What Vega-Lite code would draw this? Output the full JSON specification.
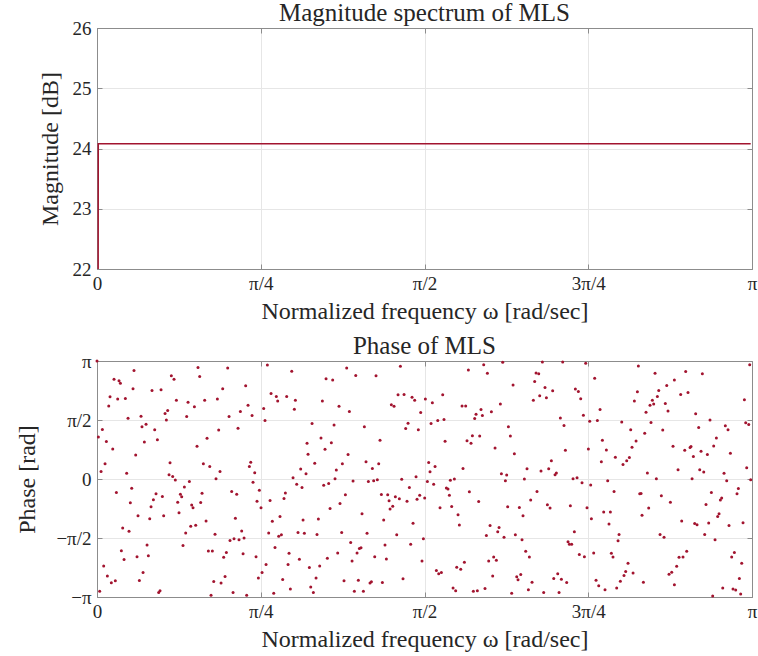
{
"$schema": "https://vega.github.io/schema/vega-lite/v6.json",
"background": "white",
"padding": {"left": 15, "top": 0, "right": 5, "bottom": 2},
"spacing": 9,
"config": {
 "font": "Liberation Serif",
 "view": {"stroke": "#8c8c8c", "strokeWidth": 1},
 "axis": {"labelFont": "Liberation Serif", "titleFont": "Liberation Serif", "labelFontSize": 19, "titleFontSize": 24, "titleFontWeight": "normal", "labelColor": "#262626", "titleColor": "#262626", "domainColor": "#8c8c8c", "tickColor": "#8c8c8c", "tickSize": -5, "gridColor": "#e6e6e6", "labelFlush": false, "labelOverlap": false},
 "axisX": {"labelPadding": 10, "titlePadding": 6},
 "axisY": {"labelPadding": 11, "titlePadding": 10},
 "title": {"font": "Liberation Serif", "fontSize": 25, "fontWeight": "normal", "color": "#262626", "offset": -7}
},
"datasets": {
 "mag": [
  {"omega_pi": 0, "magnitude_db": 0},
  {"omega_pi": 0.00195, "magnitude_db": 24.08},
  {"omega_pi": 0.998, "magnitude_db": 24.08}
 ],
 "phase": [
{"omega_pi":0,"phase_pi":1.0},{"omega_pi":0.0565,"phase_pi":0.919},{"omega_pi":0.026,"phase_pi":0.846},{"omega_pi":0.0336,"phase_pi":0.832},{"omega_pi":0.0357,"phase_pi":0.812},{"omega_pi":0.1135,"phase_pi":0.874},{"omega_pi":0.1176,"phase_pi":0.846},{"omega_pi":0.055,"phase_pi":0.765},{"omega_pi":0.084,"phase_pi":0.751},{"omega_pi":0.0978,"phase_pi":0.756},{"omega_pi":0.0199,"phase_pi":0.697},{"omega_pi":0.0316,"phase_pi":0.678},{"omega_pi":0.0433,"phase_pi":0.683},{"omega_pi":0.1212,"phase_pi":0.667},{"omega_pi":0.0179,"phase_pi":0.619},{"omega_pi":0.1079,"phase_pi":0.58},{"omega_pi":0.1039,"phase_pi":0.555},{"omega_pi":0.0672,"phase_pi":0.532},{"omega_pi":0.0474,"phase_pi":0.515},{"omega_pi":0.1059,"phase_pi":0.499},{"omega_pi":0.0749,"phase_pi":0.465},{"omega_pi":0.0687,"phase_pi":0.443},{"omega_pi":0.0082,"phase_pi":0.42},{"omega_pi":0.0881,"phase_pi":0.417},{"omega_pi":0.0021,"phase_pi":0.356},{"omega_pi":0.0922,"phase_pi":0.333},{"omega_pi":0.0143,"phase_pi":0.317},{"omega_pi":0.0723,"phase_pi":0.314},{"omega_pi":0.024,"phase_pi":0.255},{"omega_pi":0.0591,"phase_pi":0.204},{"omega_pi":0.0123,"phase_pi":0.129},{"omega_pi":0.1115,"phase_pi":0.137},{"omega_pi":0.0062,"phase_pi":0.064},{"omega_pi":0.0453,"phase_pi":0.048},{"omega_pi":0.11,"phase_pi":0.036},{"omega_pi":0.1156,"phase_pi":0.022},{"omega_pi":0.1196,"phase_pi":-0.008},{"omega_pi":0.0296,"phase_pi":-0.115},{"omega_pi":0.053,"phase_pi":-0.078},{"omega_pi":0.0901,"phase_pi":-0.126},{"omega_pi":0.0998,"phase_pi":-0.148},{"omega_pi":0.0861,"phase_pi":-0.176},{"omega_pi":0.0509,"phase_pi":-0.202},{"omega_pi":0.0825,"phase_pi":-0.235},{"omega_pi":0.0626,"phase_pi":-0.311},{"omega_pi":0.1018,"phase_pi":-0.311},{"omega_pi":0.0805,"phase_pi":-0.336},{"omega_pi":0.0392,"phase_pi":-0.415},{"omega_pi":0.0489,"phase_pi":-0.443},{"omega_pi":0.0764,"phase_pi":-0.56},{"omega_pi":0.0372,"phase_pi":-0.608},{"omega_pi":0.0784,"phase_pi":-0.65},{"omega_pi":0.0611,"phase_pi":-0.658},{"omega_pi":0.0413,"phase_pi":-0.683},{"omega_pi":0.0102,"phase_pi":-0.737},{"omega_pi":0.0703,"phase_pi":-0.793},{"omega_pi":0.0158,"phase_pi":-0.821},{"omega_pi":0.028,"phase_pi":-0.863},{"omega_pi":0.0647,"phase_pi":-0.86},{"omega_pi":0.0219,"phase_pi":-0.88},{"omega_pi":0.0041,"phase_pi":-0.952},{"omega_pi":0.0962,"phase_pi":-0.947},{"omega_pi":0.0942,"phase_pi":-0.961},
{"omega_pi":0.1542,"phase_pi":0.944},{"omega_pi":0.1995,"phase_pi":0.941},{"omega_pi":0.1568,"phase_pi":0.868},{"omega_pi":0.1919,"phase_pi":0.765},{"omega_pi":0.227,"phase_pi":0.79},{"omega_pi":0.139,"phase_pi":0.65},{"omega_pi":0.1487,"phase_pi":0.613},{"omega_pi":0.1644,"phase_pi":0.667},{"omega_pi":0.1838,"phase_pi":0.678},{"omega_pi":0.2306,"phase_pi":0.625},{"omega_pi":0.2189,"phase_pi":0.571},{"omega_pi":0.2367,"phase_pi":0.538},{"omega_pi":0.1369,"phase_pi":0.529},{"omega_pi":0.2016,"phase_pi":0.529},{"omega_pi":0.2153,"phase_pi":0.431},{"omega_pi":0.1858,"phase_pi":0.415},{"omega_pi":0.168,"phase_pi":0.345},{"omega_pi":0.1527,"phase_pi":0.277},{"omega_pi":0.1624,"phase_pi":0.129},{"omega_pi":0.1721,"phase_pi":0.106},{"omega_pi":0.2347,"phase_pi":0.143},{"omega_pi":0.2326,"phase_pi":0.106},{"omega_pi":0.1878,"phase_pi":0.064},{"omega_pi":0.2408,"phase_pi":0.053},{"omega_pi":0.141,"phase_pi":-0.022},{"omega_pi":0.1817,"phase_pi":0.003},{"omega_pi":0.1334,"phase_pi":-0.067},{"omega_pi":0.1273,"phase_pi":-0.129},{"omega_pi":0.1293,"phase_pi":-0.151},{"omega_pi":0.1604,"phase_pi":-0.12},{"omega_pi":0.2056,"phase_pi":-0.106},{"omega_pi":0.2133,"phase_pi":-0.129},{"omega_pi":0.2479,"phase_pi":-0.095},{"omega_pi":0.1232,"phase_pi":-0.196},{"omega_pi":0.1446,"phase_pi":-0.221},{"omega_pi":0.1466,"phase_pi":-0.244},{"omega_pi":0.1583,"phase_pi":-0.199},{"omega_pi":0.2443,"phase_pi":-0.188},{"omega_pi":0.2382,"phase_pi":-0.028},{"omega_pi":0.1252,"phase_pi":-0.286},{"omega_pi":0.2113,"phase_pi":-0.333},{"omega_pi":0.1665,"phase_pi":-0.356},{"omega_pi":0.1431,"phase_pi":-0.401},{"omega_pi":0.1507,"phase_pi":-0.392},{"omega_pi":0.2209,"phase_pi":-0.44},{"omega_pi":0.1354,"phase_pi":-0.457},{"omega_pi":0.1802,"phase_pi":-0.468},{"omega_pi":0.2031,"phase_pi":-0.521},{"omega_pi":0.2092,"phase_pi":-0.507},{"omega_pi":0.2168,"phase_pi":-0.515},{"omega_pi":0.2245,"phase_pi":-0.499},{"omega_pi":0.1313,"phase_pi":-0.563},{"omega_pi":0.17,"phase_pi":-0.611},{"omega_pi":0.1761,"phase_pi":-0.611},{"omega_pi":0.1975,"phase_pi":-0.622},{"omega_pi":0.1934,"phase_pi":-0.664},{"omega_pi":0.223,"phase_pi":-0.633},{"omega_pi":0.2428,"phase_pi":-0.658},{"omega_pi":0.1955,"phase_pi":-0.826},{"omega_pi":0.2464,"phase_pi":-0.84},{"omega_pi":0.1782,"phase_pi":-0.868},{"omega_pi":0.1894,"phase_pi":-0.882},{"omega_pi":0.1741,"phase_pi":-0.986},{"omega_pi":0.2077,"phase_pi":-0.961},{"omega_pi":0.2285,"phase_pi":-0.986},
{"omega_pi":0.2601,"phase_pi":0.966},{"omega_pi":0.2973,"phase_pi":0.913},{"omega_pi":0.3497,"phase_pi":0.849},{"omega_pi":0.3598,"phase_pi":0.838},{"omega_pi":0.2657,"phase_pi":0.725},{"omega_pi":0.2738,"phase_pi":0.7},{"omega_pi":0.2759,"phase_pi":0.661},{"omega_pi":0.2896,"phase_pi":0.7},{"omega_pi":0.3029,"phase_pi":0.667},{"omega_pi":0.3441,"phase_pi":0.661},{"omega_pi":0.2545,"phase_pi":0.597},{"omega_pi":0.3013,"phase_pi":0.591},{"omega_pi":0.3695,"phase_pi":0.616},{"omega_pi":0.2565,"phase_pi":0.496},{"omega_pi":0.3283,"phase_pi":0.471},{"omega_pi":0.3619,"phase_pi":0.457},{"omega_pi":0.342,"phase_pi":0.347},{"omega_pi":0.3578,"phase_pi":0.308},{"omega_pi":0.3207,"phase_pi":0.303},{"omega_pi":0.3481,"phase_pi":0.252},{"omega_pi":0.3222,"phase_pi":0.21},{"omega_pi":0.3324,"phase_pi":0.134},{"omega_pi":0.3746,"phase_pi":0.129},{"omega_pi":0.311,"phase_pi":0.084},{"omega_pi":0.3654,"phase_pi":0.076},{"omega_pi":0.3191,"phase_pi":0.045},{"omega_pi":0.2993,"phase_pi":0.011},{"omega_pi":0.3634,"phase_pi":0.003},{"omega_pi":0.3049,"phase_pi":-0.045},{"omega_pi":0.313,"phase_pi":-0.073},{"omega_pi":0.3461,"phase_pi":-0.053},{"omega_pi":0.3537,"phase_pi":-0.039},{"omega_pi":0.2876,"phase_pi":-0.118},{"omega_pi":0.2642,"phase_pi":-0.182},{"omega_pi":0.2855,"phase_pi":-0.165},{"omega_pi":0.371,"phase_pi":-0.207},{"omega_pi":0.2504,"phase_pi":-0.244},{"omega_pi":0.3558,"phase_pi":-0.249},{"omega_pi":0.2794,"phase_pi":-0.317},{"omega_pi":0.2677,"phase_pi":-0.359},{"omega_pi":0.3146,"phase_pi":-0.347},{"omega_pi":0.338,"phase_pi":-0.339},{"omega_pi":0.2621,"phase_pi":-0.457},{"omega_pi":0.2774,"phase_pi":-0.485},{"omega_pi":0.2815,"phase_pi":-0.473},{"omega_pi":0.3069,"phase_pi":-0.454},{"omega_pi":0.3166,"phase_pi":-0.459},{"omega_pi":0.3359,"phase_pi":-0.471},{"omega_pi":0.3736,"phase_pi":-0.454},{"omega_pi":0.2718,"phase_pi":-0.58},{"omega_pi":0.2932,"phase_pi":-0.63},{"omega_pi":0.3675,"phase_pi":-0.627},{"omega_pi":0.309,"phase_pi":-0.681},{"omega_pi":0.3517,"phase_pi":-0.672},{"omega_pi":0.2581,"phase_pi":-0.725},{"omega_pi":0.2917,"phase_pi":-0.725},{"omega_pi":0.3242,"phase_pi":-0.751},{"omega_pi":0.34,"phase_pi":-0.737},{"omega_pi":0.252,"phase_pi":-0.793},{"omega_pi":0.2835,"phase_pi":-0.852},{"omega_pi":0.3344,"phase_pi":-0.84},{"omega_pi":0.2952,"phase_pi":-0.933},{"omega_pi":0.3263,"phase_pi":-0.916},{"omega_pi":0.2698,"phase_pi":-0.969},{"omega_pi":0.3303,"phase_pi":-0.961},
{"omega_pi":0.3812,"phase_pi":0.941},{"omega_pi":0.395,"phase_pi":0.877},{"omega_pi":0.426,"phase_pi":0.874},{"omega_pi":0.4632,"phase_pi":0.955},{"omega_pi":0.4596,"phase_pi":0.714},{"omega_pi":0.4688,"phase_pi":0.717},{"omega_pi":0.481,"phase_pi":0.692},{"omega_pi":0.485,"phase_pi":0.667},{"omega_pi":0.5013,"phase_pi":0.678},{"omega_pi":0.4494,"phase_pi":0.63},{"omega_pi":0.4535,"phase_pi":0.616},{"omega_pi":0.3853,"phase_pi":0.571},{"omega_pi":0.4942,"phase_pi":0.563},{"omega_pi":0.4749,"phase_pi":0.473},{"omega_pi":0.4713,"phase_pi":0.429},{"omega_pi":0.4906,"phase_pi":0.417},{"omega_pi":0.4082,"phase_pi":0.443},{"omega_pi":0.4321,"phase_pi":0.328},{"omega_pi":0.3833,"phase_pi":0.207},{"omega_pi":0.4107,"phase_pi":0.146},{"omega_pi":0.4301,"phase_pi":0.129},{"omega_pi":0.4204,"phase_pi":0.09},{"omega_pi":0.4871,"phase_pi":0.02},{"omega_pi":0.4652,"phase_pi":-0.003},{"omega_pi":0.3909,"phase_pi":-0.017},{"omega_pi":0.4143,"phase_pi":-0.022},{"omega_pi":0.4224,"phase_pi":-0.014},{"omega_pi":0.428,"phase_pi":-0.006},{"omega_pi":0.4769,"phase_pi":-0.073},{"omega_pi":0.3792,"phase_pi":-0.134},{"omega_pi":0.4342,"phase_pi":-0.132},{"omega_pi":0.4438,"phase_pi":-0.134},{"omega_pi":0.4555,"phase_pi":-0.151},{"omega_pi":0.4459,"phase_pi":-0.185},{"omega_pi":0.4616,"phase_pi":-0.168},{"omega_pi":0.4733,"phase_pi":-0.188},{"omega_pi":0.4886,"phase_pi":-0.171},{"omega_pi":0.4927,"phase_pi":-0.137},{"omega_pi":0.5003,"phase_pi":-0.16},{"omega_pi":0.4515,"phase_pi":-0.23},{"omega_pi":0.4474,"phase_pi":-0.255},{"omega_pi":0.4046,"phase_pi":-0.294},{"omega_pi":0.4377,"phase_pi":-0.347},{"omega_pi":0.4825,"phase_pi":-0.375},{"omega_pi":0.4123,"phase_pi":-0.459},{"omega_pi":0.4576,"phase_pi":-0.473},{"omega_pi":0.4983,"phase_pi":-0.507},{"omega_pi":0.3873,"phase_pi":-0.538},{"omega_pi":0.4006,"phase_pi":-0.588},{"omega_pi":0.4031,"phase_pi":-0.583},{"omega_pi":0.4397,"phase_pi":-0.56},{"omega_pi":0.4789,"phase_pi":-0.552},{"omega_pi":0.397,"phase_pi":-0.627},{"omega_pi":0.3894,"phase_pi":-0.695},{"omega_pi":0.424,"phase_pi":-0.658},{"omega_pi":0.4418,"phase_pi":-0.678},{"omega_pi":0.4962,"phase_pi":-0.695},{"omega_pi":0.3771,"phase_pi":-0.863},{"omega_pi":0.399,"phase_pi":-0.857},{"omega_pi":0.4168,"phase_pi":-0.882},{"omega_pi":0.4189,"phase_pi":-0.871},{"omega_pi":0.4357,"phase_pi":-0.877},{"omega_pi":0.4672,"phase_pi":-0.846},{"omega_pi":0.3929,"phase_pi":-0.952},{"omega_pi":0.4067,"phase_pi":-0.952},
{"omega_pi":0.567,"phase_pi":0.924},{"omega_pi":0.5904,"phase_pi":0.969},{"omega_pi":0.6194,"phase_pi":0.989},{"omega_pi":0.596,"phase_pi":0.896},{"omega_pi":0.5278,"phase_pi":0.714},{"omega_pi":0.512,"phase_pi":0.647},{"omega_pi":0.5573,"phase_pi":0.619},{"omega_pi":0.5629,"phase_pi":0.619},{"omega_pi":0.5863,"phase_pi":0.588},{"omega_pi":0.5787,"phase_pi":0.549},{"omega_pi":0.5884,"phase_pi":0.538},{"omega_pi":0.5766,"phase_pi":0.513},{"omega_pi":0.6021,"phase_pi":0.569},{"omega_pi":0.6158,"phase_pi":0.636},{"omega_pi":0.51,"phase_pi":0.471},{"omega_pi":0.5202,"phase_pi":0.496},{"omega_pi":0.5298,"phase_pi":0.504},{"omega_pi":0.6281,"phase_pi":0.443},{"omega_pi":0.5731,"phase_pi":0.367},{"omega_pi":0.5843,"phase_pi":0.364},{"omega_pi":0.5649,"phase_pi":0.325},{"omega_pi":0.571,"phase_pi":0.303},{"omega_pi":0.5314,"phase_pi":0.319},{"omega_pi":0.6077,"phase_pi":0.263},{"omega_pi":0.5064,"phase_pi":0.14},{"omega_pi":0.5161,"phase_pi":0.106},{"omega_pi":0.5084,"phase_pi":0.062},{"omega_pi":0.5588,"phase_pi":0.09},{"omega_pi":0.6174,"phase_pi":0.045},{"omega_pi":0.6255,"phase_pi":0.034},{"omega_pi":0.6235,"phase_pi":-0.014},{"omega_pi":0.5395,"phase_pi":-0.011},{"omega_pi":0.5456,"phase_pi":0.0},{"omega_pi":0.5044,"phase_pi":-0.022},{"omega_pi":0.514,"phase_pi":-0.045},{"omega_pi":0.5334,"phase_pi":-0.076},{"omega_pi":0.5359,"phase_pi":-0.084},{"omega_pi":0.5685,"phase_pi":-0.109},{"omega_pi":0.538,"phase_pi":-0.137},{"omega_pi":0.5827,"phase_pi":-0.19},{"omega_pi":0.5237,"phase_pi":-0.244},{"omega_pi":0.5415,"phase_pi":-0.232},{"omega_pi":0.627,"phase_pi":-0.235},{"omega_pi":0.5512,"phase_pi":-0.303},{"omega_pi":0.5532,"phase_pi":-0.389},{"omega_pi":0.6001,"phase_pi":-0.395},{"omega_pi":0.6138,"phase_pi":-0.412},{"omega_pi":0.6118,"phase_pi":-0.448},{"omega_pi":0.5945,"phase_pi":-0.479},{"omega_pi":0.6214,"phase_pi":-0.493},{"omega_pi":0.6056,"phase_pi":-0.661},{"omega_pi":0.598,"phase_pi":-0.695},{"omega_pi":0.6097,"phase_pi":-0.689},{"omega_pi":0.5609,"phase_pi":-0.706},{"omega_pi":0.5492,"phase_pi":-0.748},{"omega_pi":0.5553,"phase_pi":-0.765},{"omega_pi":0.5181,"phase_pi":-0.776},{"omega_pi":0.5217,"phase_pi":-0.804},{"omega_pi":0.5258,"phase_pi":-0.793},{"omega_pi":0.6041,"phase_pi":-0.821},{"omega_pi":0.5436,"phase_pi":-0.924},{"omega_pi":0.5476,"phase_pi":-0.947},{"omega_pi":0.5746,"phase_pi":-0.952},{"omega_pi":0.5807,"phase_pi":-0.947},{"omega_pi":0.5924,"phase_pi":-0.927},
{"omega_pi":0.68,"phase_pi":0.992},{"omega_pi":0.711,"phase_pi":0.992},{"omega_pi":0.7461,"phase_pi":0.98},{"omega_pi":0.6703,"phase_pi":0.899},{"omega_pi":0.6744,"phase_pi":0.891},{"omega_pi":0.6352,"phase_pi":0.796},{"omega_pi":0.6682,"phase_pi":0.826},{"omega_pi":0.684,"phase_pi":0.776},{"omega_pi":0.6957,"phase_pi":0.748},{"omega_pi":0.7303,"phase_pi":0.762},{"omega_pi":0.7349,"phase_pi":0.742},{"omega_pi":0.6759,"phase_pi":0.706},{"omega_pi":0.6861,"phase_pi":0.689},{"omega_pi":0.6662,"phase_pi":0.667},{"omega_pi":0.7385,"phase_pi":0.681},{"omega_pi":0.7074,"phase_pi":0.518},{"omega_pi":0.7426,"phase_pi":0.541},{"omega_pi":0.7522,"phase_pi":0.49},{"omega_pi":0.713,"phase_pi":0.454},{"omega_pi":0.6311,"phase_pi":0.364},{"omega_pi":0.7502,"phase_pi":0.255},{"omega_pi":0.7151,"phase_pi":0.244},{"omega_pi":0.6372,"phase_pi":0.213},{"omega_pi":0.6937,"phase_pi":0.154},{"omega_pi":0.6565,"phase_pi":0.087},{"omega_pi":0.6779,"phase_pi":0.067},{"omega_pi":0.6896,"phase_pi":0.087},{"omega_pi":0.7013,"phase_pi":0.05},{"omega_pi":0.6993,"phase_pi":0.036},{"omega_pi":0.6525,"phase_pi":0.0},{"omega_pi":0.7268,"phase_pi":0.003},{"omega_pi":0.7329,"phase_pi":0.011},{"omega_pi":0.7405,"phase_pi":-0.031},{"omega_pi":0.7537,"phase_pi":-0.05},{"omega_pi":0.6718,"phase_pi":-0.106},{"omega_pi":0.6621,"phase_pi":-0.179},{"omega_pi":0.6448,"phase_pi":-0.241},{"omega_pi":0.6876,"phase_pi":-0.218},{"omega_pi":0.6917,"phase_pi":-0.246},{"omega_pi":0.7227,"phase_pi":-0.227},{"omega_pi":0.7481,"phase_pi":-0.244},{"omega_pi":0.6504,"phase_pi":-0.311},{"omega_pi":0.7548,"phase_pi":-0.336},{"omega_pi":0.7288,"phase_pi":-0.448},{"omega_pi":0.6387,"phase_pi":-0.473},{"omega_pi":0.6489,"phase_pi":-0.515},{"omega_pi":0.7191,"phase_pi":-0.532},{"omega_pi":0.7212,"phase_pi":-0.552},{"omega_pi":0.7247,"phase_pi":-0.552},{"omega_pi":0.6545,"phase_pi":-0.613},{"omega_pi":0.6601,"phase_pi":-0.661},{"omega_pi":0.7364,"phase_pi":-0.639},{"omega_pi":0.7441,"phase_pi":-0.658},{"omega_pi":0.7034,"phase_pi":-0.804},{"omega_pi":0.6469,"phase_pi":-0.81},{"omega_pi":0.6408,"phase_pi":-0.829},{"omega_pi":0.6428,"phase_pi":-0.854},{"omega_pi":0.6973,"phase_pi":-0.843},{"omega_pi":0.709,"phase_pi":-0.849},{"omega_pi":0.7171,"phase_pi":-0.877},{"omega_pi":0.6642,"phase_pi":-0.874},{"omega_pi":0.6331,"phase_pi":-0.969},{"omega_pi":0.6586,"phase_pi":-0.938},{"omega_pi":0.682,"phase_pi":-0.961},{"omega_pi":0.7054,"phase_pi":-0.961},
{"omega_pi":0.8265,"phase_pi":0.958},{"omega_pi":0.852,"phase_pi":0.896},{"omega_pi":0.7598,"phase_pi":0.854},{"omega_pi":0.8815,"phase_pi":0.84},{"omega_pi":0.8698,"phase_pi":0.793},{"omega_pi":0.8576,"phase_pi":0.751},{"omega_pi":0.825,"phase_pi":0.739},{"omega_pi":0.8555,"phase_pi":0.7},{"omega_pi":0.8479,"phase_pi":0.667},{"omega_pi":0.8204,"phase_pi":0.661},{"omega_pi":0.8499,"phase_pi":0.636},{"omega_pi":0.8443,"phase_pi":0.625},{"omega_pi":0.8677,"phase_pi":0.639},{"omega_pi":0.8718,"phase_pi":0.577},{"omega_pi":0.8382,"phase_pi":0.566},{"omega_pi":0.768,"phase_pi":0.588},{"omega_pi":0.7639,"phase_pi":0.496},{"omega_pi":0.8011,"phase_pi":0.482},{"omega_pi":0.8458,"phase_pi":0.479},{"omega_pi":0.8148,"phase_pi":0.417},{"omega_pi":0.8637,"phase_pi":0.415},{"omega_pi":0.8362,"phase_pi":0.387},{"omega_pi":0.7716,"phase_pi":0.328},{"omega_pi":0.823,"phase_pi":0.322},{"omega_pi":0.7777,"phase_pi":0.246},{"omega_pi":0.8168,"phase_pi":0.269},{"omega_pi":0.8794,"phase_pi":0.277},{"omega_pi":0.7914,"phase_pi":0.185},{"omega_pi":0.8128,"phase_pi":0.182},{"omega_pi":0.8087,"phase_pi":0.154},{"omega_pi":0.8031,"phase_pi":0.123},{"omega_pi":0.77,"phase_pi":0.146},{"omega_pi":0.8403,"phase_pi":0.05},{"omega_pi":0.854,"phase_pi":0.003},{"omega_pi":0.7797,"phase_pi":-0.014},{"omega_pi":0.7894,"phase_pi":-0.106},{"omega_pi":0.8286,"phase_pi":-0.126},{"omega_pi":0.8306,"phase_pi":-0.123},{"omega_pi":0.8616,"phase_pi":-0.143},{"omega_pi":0.8754,"phase_pi":-0.196},{"omega_pi":0.7736,"phase_pi":-0.28},{"omega_pi":0.7838,"phase_pi":-0.28},{"omega_pi":0.8423,"phase_pi":-0.246},{"omega_pi":0.8321,"phase_pi":-0.308},{"omega_pi":0.7817,"phase_pi":-0.381},{"omega_pi":0.797,"phase_pi":-0.471},{"omega_pi":0.8596,"phase_pi":-0.471},{"omega_pi":0.8657,"phase_pi":-0.493},{"omega_pi":0.7955,"phase_pi":-0.524},{"omega_pi":0.7583,"phase_pi":-0.627},{"omega_pi":0.7853,"phase_pi":-0.63},{"omega_pi":0.7878,"phase_pi":-0.661},{"omega_pi":0.8107,"phase_pi":-0.714},{"omega_pi":0.8072,"phase_pi":-0.784},{"omega_pi":0.8184,"phase_pi":-0.796},{"omega_pi":0.8046,"phase_pi":-0.818},{"omega_pi":0.8733,"phase_pi":-0.807},{"omega_pi":0.8774,"phase_pi":-0.79},{"omega_pi":0.8815,"phase_pi":-0.896},{"omega_pi":0.7619,"phase_pi":-0.857},{"omega_pi":0.799,"phase_pi":-0.866},{"omega_pi":0.766,"phase_pi":-0.905},{"omega_pi":0.8342,"phase_pi":-0.874},{"omega_pi":0.7756,"phase_pi":-0.938},{"omega_pi":0.7934,"phase_pi":-0.924},
{"omega_pi":0.9965,"phase_pi":0.969},{"omega_pi":0.8988,"phase_pi":0.91},{"omega_pi":0.9242,"phase_pi":0.891},{"omega_pi":0.8911,"phase_pi":0.717},{"omega_pi":0.9023,"phase_pi":0.734},{"omega_pi":0.9884,"phase_pi":0.672},{"omega_pi":0.914,"phase_pi":0.552},{"omega_pi":0.9359,"phase_pi":0.499},{"omega_pi":0.9904,"phase_pi":0.476},{"omega_pi":0.995,"phase_pi":0.462},{"omega_pi":0.9186,"phase_pi":0.437},{"omega_pi":0.9593,"phase_pi":0.451},{"omega_pi":0.9634,"phase_pi":0.417},{"omega_pi":0.9456,"phase_pi":0.347},{"omega_pi":0.8973,"phase_pi":0.244},{"omega_pi":0.9054,"phase_pi":0.266},{"omega_pi":0.9069,"phase_pi":0.275},{"omega_pi":0.9222,"phase_pi":0.235},{"omega_pi":0.9415,"phase_pi":0.28},{"omega_pi":0.9319,"phase_pi":0.207},{"omega_pi":0.9105,"phase_pi":0.19},{"omega_pi":0.967,"phase_pi":0.218},{"omega_pi":0.8871,"phase_pi":0.078},{"omega_pi":0.9202,"phase_pi":0.078},{"omega_pi":0.9263,"phase_pi":0.059},{"omega_pi":0.9573,"phase_pi":0.048},{"omega_pi":0.9919,"phase_pi":0.095},{"omega_pi":0.9085,"phase_pi":0.003},{"omega_pi":0.9614,"phase_pi":-0.014},{"omega_pi":0.998,"phase_pi":-0.006},{"omega_pi":0.9792,"phase_pi":-0.081},{"omega_pi":0.9771,"phase_pi":-0.126},{"omega_pi":0.938,"phase_pi":-0.115},{"omega_pi":0.9537,"phase_pi":-0.16},{"omega_pi":0.9517,"phase_pi":-0.179},{"omega_pi":0.9298,"phase_pi":-0.216},{"omega_pi":0.9497,"phase_pi":-0.294},{"omega_pi":0.9476,"phase_pi":-0.317},{"omega_pi":0.8927,"phase_pi":-0.356},{"omega_pi":0.9125,"phase_pi":-0.378},{"omega_pi":0.9161,"phase_pi":-0.387},{"omega_pi":0.9339,"phase_pi":-0.373},{"omega_pi":0.9649,"phase_pi":-0.395},{"omega_pi":0.9863,"phase_pi":-0.37},{"omega_pi":0.9278,"phase_pi":-0.471},{"omega_pi":0.9436,"phase_pi":-0.515},{"omega_pi":0.9003,"phase_pi":-0.613},{"omega_pi":0.8886,"phase_pi":-0.664},{"omega_pi":0.8947,"phase_pi":-0.661},{"omega_pi":0.9731,"phase_pi":-0.622},{"omega_pi":0.969,"phase_pi":-0.661},{"omega_pi":0.9843,"phase_pi":-0.714},{"omega_pi":0.885,"phase_pi":-0.739},{"omega_pi":0.9807,"phase_pi":-0.843},{"omega_pi":0.9553,"phase_pi":-0.924},{"omega_pi":0.971,"phase_pi":-0.933},{"omega_pi":0.9751,"phase_pi":-0.941},{"omega_pi":0.9827,"phase_pi":-0.975},{"omega_pi":0.94,"phase_pi":-0.992}
 ]
},
"vconcat": [
 {
  "width": 655, "height": 241,
  "title": {"text": "Magnitude spectrum of MLS"},
  "data": {"name": "mag"},
  "layer": [
   {
    "mark": {"type": "line", "color": "#A2142F", "strokeWidth": 1.5, "clip": true},
    "encoding": {
     "x": {"field": "omega_pi", "type": "quantitative", "scale": {"domain": [0, 1], "nice": false, "zero": false},
           "axis": {"title": "Normalized frequency ω [rad/sec]", "values": [0, 0.25, 0.5, 0.75, 1], "grid": true,
                    "labelExpr": "datum.value == 0 ? '0' : datum.value == 0.25 ? 'π/4' : datum.value == 0.5 ? 'π/2' : datum.value == 0.75 ? '3π/4' : 'π'"}},
     "y": {"field": "magnitude_db", "type": "quantitative", "scale": {"domain": [22, 26], "nice": false, "zero": false},
           "axis": {"title": "Magnitude [dB]", "values": [22, 23, 24, 25, 26], "grid": true}}
    }
   },
   {
    "mark": {"type": "point", "opacity": 0, "clip": true},
    "encoding": {
     "x": {"field": "omega_pi", "type": "quantitative", "axis": {"orient": "top", "labels": false, "title": null, "grid": false, "values": [0, 0.25, 0.5, 0.75, 1]}},
     "y": {"field": "magnitude_db", "type": "quantitative", "axis": {"orient": "right", "labels": false, "title": null, "grid": false, "values": [22, 23, 24, 25, 26]}}
    }
   }
  ],
  "resolve": {"axis": {"x": "independent", "y": "independent"}}
 },
 {
  "width": 655, "height": 236,
  "title": {"text": "Phase of MLS"},
  "data": {"name": "phase"},
  "layer": [
   {
    "mark": {"type": "point", "filled": true, "size": 9, "color": "#A2142F", "opacity": 1},
    "encoding": {
     "x": {"field": "omega_pi", "type": "quantitative", "scale": {"domain": [0, 1], "nice": false, "zero": false},
           "axis": {"title": "Normalized frequency ω [rad/sec]", "values": [0, 0.25, 0.5, 0.75, 1], "grid": true,
                    "labelExpr": "datum.value == 0 ? '0' : datum.value == 0.25 ? 'π/4' : datum.value == 0.5 ? 'π/2' : datum.value == 0.75 ? '3π/4' : 'π'"}},
     "y": {"field": "phase_pi", "type": "quantitative", "scale": {"domain": [-1, 1], "nice": false, "zero": false},
           "axis": {"title": "Phase [rad]", "titlePadding": 16, "values": [-1, -0.5, 0, 0.5, 1], "grid": true,
                    "labelExpr": "datum.value == -1 ? '−π' : datum.value == -0.5 ? '−π/2' : datum.value == 0 ? '0' : datum.value == 0.5 ? 'π/2' : 'π'"}}
    }
   },
   {
    "mark": {"type": "point", "opacity": 0, "clip": true},
    "encoding": {
     "x": {"field": "omega_pi", "type": "quantitative", "axis": {"orient": "top", "labels": false, "title": null, "grid": false, "values": [0, 0.25, 0.5, 0.75, 1]}},
     "y": {"field": "phase_pi", "type": "quantitative", "axis": {"orient": "right", "labels": false, "title": null, "grid": false, "values": [-1, -0.5, 0, 0.5, 1]}}
    }
   }
  ],
  "resolve": {"axis": {"x": "independent", "y": "independent"}}
 }
]
}
